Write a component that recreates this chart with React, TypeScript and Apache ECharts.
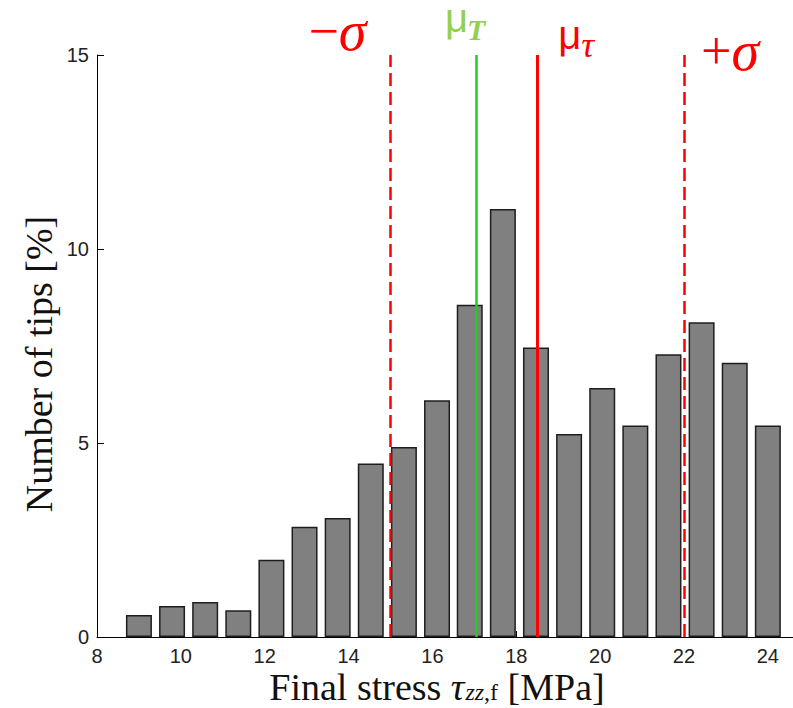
import React, { useEffect, useRef } from "react";
import * as echarts from "echarts";

// Histogram bins (centres, MPa) and share of tips in each bin (%)
const binCenters = [9.0, 9.79, 10.58, 11.37, 12.16, 12.95, 13.74, 14.53, 15.32, 16.11, 16.89, 17.68, 18.47, 19.26, 20.05, 20.84, 21.63, 22.42, 23.21, 24.0];
const tipPercent = [0.57, 0.8, 0.9, 0.69, 1.99, 2.84, 3.07, 4.47, 4.9, 6.1, 8.56, 11.03, 7.46, 5.23, 6.42, 5.45, 7.29, 8.11, 7.07, 5.45];

// Axis ticks
const xTicks = [8, 10, 12, 14, 16, 18, 20, 22, 24];
const yTicks = [0, 5, 10, 15];

// Reference statistics (MPa)
const sigmaLow = 15.0;
const meanT = 17.04;
const meanTau = 18.5;
const sigmaHigh = 22.0;

const RED = "#ff0000";
const GREEN_LINE = "#22cc22";
const GREEN_TEXT = "#92d050";
const SERIF = "'Liberation Serif', 'Times New Roman', serif";
const SANS = "'Liberation Sans', Arial, sans-serif";

export default function App() {
  const ref = useRef<HTMLDivElement>(null);

  useEffect(() => {
    if (!ref.current) return;
    const chart = echarts.init(ref.current, undefined, { renderer: "svg" });

    chart.setOption({
      animation: false,
      backgroundColor: "#ffffff",
      grid: { left: 97, right: 0, top: 55, bottom: 71, containLabel: false },
      xAxis: {
        type: "value",
        min: 8,
        max: 24.6,
        interval: 2,
        axisLine: { show: true, lineStyle: { color: "#000", width: 1 } },
        axisTick: { show: true, inside: true, length: 6, lineStyle: { color: "#000" }, customValues: xTicks },
        axisLabel: {
          show: true,
          margin: 9,
          fontSize: 20,
          lineHeight: 20,
          fontFamily: SANS,
          color: "#222",
          customValues: xTicks,
          formatter: (v: number) => (xTicks.includes(v) ? String(v) : ""),
        },
        splitLine: { show: false },
      },
      yAxis: {
        type: "value",
        min: 0,
        max: 15,
        interval: 5,
        axisLine: { show: true, lineStyle: { color: "#000", width: 1 } },
        axisTick: { show: true, inside: true, length: 7, lineStyle: { color: "#000" } },
        axisLabel: {
          show: true,
          margin: 8,
          fontSize: 20,
          fontFamily: SANS,
          color: "#222",
          formatter: (v: number) => (yTicks.includes(v) ? String(v) : ""),
        },
        splitLine: { show: false },
      },
      series: [
        {
          type: "bar",
          data: binCenters.map((c, i) => [c, tipPercent[i]]),
          barWidth: 26,
          itemStyle: { color: "#808080", borderColor: "#1e1e1e", borderWidth: 1.5 },
          z: 2,
          markLine: {
            silent: true,
            symbol: ["none", "none"],
            label: { show: false },
            z: 5,
            data: [
              { xAxis: sigmaLow, lineStyle: { color: RED, width: 2.5, type: [13, 6] } },
              { xAxis: meanT, lineStyle: { color: GREEN_LINE, width: 2.5, type: "solid" } },
              { xAxis: meanTau, lineStyle: { color: RED, width: 3, type: "solid" } },
              { xAxis: sigmaHigh, lineStyle: { color: RED, width: 2.5, type: [13, 6] } },
            ],
          },
        },
      ],
    });

    const px = (v: number) => chart.convertToPixel({ xAxisIndex: 0 }, v) as number;
    const xLow = px(sigmaLow);
    const xT = px(meanT);
    const xTau = px(meanTau);
    const xHigh = px(sigmaHigh);

    const sigmaRich = {
      m: { fontFamily: SERIF, fontSize: 54, fill: RED },
      s: { fontFamily: SERIF, fontStyle: "italic", fontSize: 56, fill: RED },
    };

    chart.setOption({
      graphic: [
        // −σ
        {
          type: "text",
          x: xLow - 24,
          y: 31,
          style: { text: "{m|−}{s|σ}", align: "right", verticalAlign: "middle", fill: RED, rich: sigmaRich },
        },
        // μ_T
        {
          type: "text",
          x: xT - 31,
          y: 18,
          style: { text: "μ", fontFamily: SANS, fontSize: 40, lineHeight: 26, fill: GREEN_TEXT, align: "left", verticalAlign: "middle" },
        },
        {
          type: "text",
          x: xT - 9,
          y: 29,
          style: { text: "T", fontFamily: SERIF, fontStyle: "italic", fontWeight: "bold", fontSize: 30, fill: GREEN_TEXT, align: "left", verticalAlign: "middle" },
        },
        // μ_τ
        {
          type: "text",
          x: xTau + 21,
          y: 35,
          style: { text: "μ", fontFamily: SANS, fontSize: 40, fill: RED, align: "left", verticalAlign: "middle" },
        },
        {
          type: "text",
          x: xTau + 44,
          y: 45,
          style: { text: "τ", fontFamily: SERIF, fontStyle: "italic", fontSize: 36, fill: RED, align: "left", verticalAlign: "middle" },
        },
        // +σ
        {
          type: "text",
          x: xHigh + 17,
          y: 51,
          style: { text: "{m|+}{s|σ}", align: "left", verticalAlign: "middle", fill: RED, rich: sigmaRich },
        },
        // x-axis title
        {
          type: "text",
          x: 437,
          y: 684,
          style: {
            text: "{r|Final stress }{i|τ}{si|zz}{sr|,f}{r| [MPa]}",
            align: "center",
            verticalAlign: "middle",
            fill: "#111",
            rich: {
              r: { fontFamily: SERIF, fontSize: 38, lineHeight: 32, verticalAlign: "top", fill: "#111" },
              i: { fontFamily: SERIF, fontStyle: "italic", fontSize: 38, lineHeight: 32, verticalAlign: "top", fill: "#111" },
              si: { fontFamily: SERIF, fontStyle: "italic", fontSize: 24, lineHeight: 24, verticalAlign: "top", padding: [12, 0, 0, 1], fill: "#111" },
              sr: { fontFamily: SERIF, fontSize: 24, lineHeight: 24, verticalAlign: "top", padding: [12, 0, 0, 0], fill: "#111" },
            },
          },
        },
        // y-axis title
        {
          type: "text",
          x: 39,
          y: 364,
          rotation: Math.PI / 2,
          style: {
            text: "Number of tips [%]",
            fontFamily: SERIF,
            fontSize: 38,
            fill: "#111",
            align: "center",
            verticalAlign: "middle",
          },
        },
      ],
    });

    return () => chart.dispose();
  }, []);

  return (
    <div
      ref={ref}
      style={{ position: "fixed", left: 0, top: 0, width: 793, height: 708, background: "#fff" }}
    />
  );
}
